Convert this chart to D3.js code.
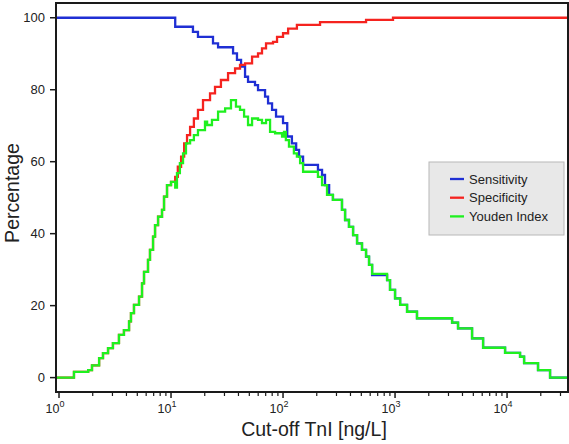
<!DOCTYPE html>
<meta charset="utf-8">
<html>
<head>
  <style>
  body { margin: 0; background: #fff; }
  text { font-family: "Liberation Sans", Arial, sans-serif; fill: #222; }
  .curve { fill: none; stroke-width: 2.3px; stroke-linejoin: miter; }
  </style>
  <script src="https://cdn.jsdelivr.net/npm/d3@7"></script>
</head>
<body>
  <div id="chart"></div>
  <script type="text/javascript">
  var width = 569, height = 444;
  var margin = { top: 3, right: 1, bottom: 52, left: 56 };

  // Cut-off values (ng/L) where each curve steps, and the value after the step
  var sensCutoff = [0.94, 10.9, 15.7, 17.4, 23.7, 26.3, 35.8, 38.8, 42.2, 45.8,
    48.7, 56.2, 59.8, 69.1, 73.5, 79.8, 86.6, 100, 109, 120,
    131, 139, 151, 205, 223, 237, 258, 279, 336, 358,
    388, 422, 458, 507, 551, 586, 624, 849, 902, 1000,
    1110, 1280, 1570, 3230, 3650, 4870, 6110, 9600, 13060, 14190,
    18900, 24200];
  var sensValue = [100, 97.5, 96.1, 94.7, 92.9, 91.8, 90.1, 88.3, 86.4, 83.6,
    82.2, 81.3, 79.9, 78.1, 76.2, 74.4, 72.5, 70.7, 67.0, 65.1,
    63.3, 61.4, 59.1, 57.7, 56.3, 53.5, 50.8, 49.4, 46.6, 43.8,
    41.9, 39.6, 37.3, 35.5, 33.6, 31.3, 28.5, 27.1, 24.4, 22.0,
    20.2, 18.3, 16.5, 15.3, 13.7, 10.9, 8.3, 6.9, 5.8, 4.0,
    2.1, 0];

  var specCutoff = [0.94, 1.36, 1.82, 1.97, 2.28, 2.47, 2.74, 3.03, 3.43, 3.80,
    4.22, 4.39, 4.67, 5.18, 5.51, 5.74, 6.23, 6.49, 6.91, 7.20,
    7.66, 8.31, 8.66, 9.21, 10.0, 10.9, 11.5, 12.3, 13.1, 13.9,
    14.8, 16.0, 17.4, 19.3, 22.3, 24.7, 27.9, 32.3, 37.3, 41.3,
    45.8, 52.9, 59.8, 64.9, 70.5, 81.4, 88.4, 100, 111, 133,
    214, 551, 959];
  var specValue = [0, 1.6, 2.1, 3.4, 5.4, 6.8, 8.2, 9.6, 11.9, 13.2,
    15.6, 17.9, 20.2, 22.5, 26.2, 29.4, 32.7, 35.5, 39.2, 42.4,
    44.7, 46.6, 50.3, 53.5, 54.4, 55.8, 58.6, 61.4, 65.1, 67.4,
    69.7, 72.0, 74.4, 77.1, 79.0, 80.8, 82.7, 84.6, 85.9, 86.9,
    87.3, 89.2, 90.1, 91.5, 92.9, 93.3, 94.7, 95.7, 97.0, 98.0,
    98.8, 99.4, 100];

  var youdenCutoff = [0.94, 1.36, 1.82, 1.97, 2.28, 2.47, 2.74, 3.03, 3.43, 3.80,
    4.22, 4.39, 4.67, 5.18, 5.51, 5.74, 6.23, 6.49, 6.91, 7.20,
    7.66, 8.31, 8.66, 9.21, 10.0, 10.9, 11.3, 12.0, 12.8, 13.6,
    14.8, 16.0, 17.4, 20.1, 21.0, 23.2, 26.3, 30.4, 34.3, 38.0,
    41.3, 44.9, 48.7, 52.9, 59.8, 64.9, 70.5, 76.6, 84.9, 98,
    102, 106, 113, 125, 133, 142, 151, 205, 223, 247,
    279, 336, 358, 388, 422, 458, 507, 551, 586, 624,
    849, 902, 1000, 1110, 1280, 1570, 3230, 3650, 4870, 6110,
    9600, 13060, 14190, 18900, 24200];
  var youdenValue = [0, 1.6, 2.1, 3.4, 5.4, 6.8, 8.2, 9.6, 11.9, 13.2,
    15.6, 17.9, 20.2, 22.5, 26.2, 29.4, 32.7, 35.5, 39.2, 42.4,
    44.7, 46.6, 50.3, 53.5, 54.4, 52.8, 56.8, 59.6, 62.3, 65.1,
    66.0, 67.4, 68.8, 71.1, 70.2, 71.6, 73.9, 74.8, 77.1, 75.3,
    74.4, 72.5, 70.2, 72.0, 71.6, 70.7, 71.6, 68.3, 67.9, 67.0,
    68.3, 66.0, 64.2, 62.3, 61.4, 59.6, 57.2, 55.8, 53.5, 50.8,
    49.4, 46.6, 43.8, 41.9, 39.6, 37.3, 35.5, 33.6, 31.3, 28.8,
    27.1, 24.4, 22.0, 20.2, 18.3, 16.5, 15.3, 13.7, 10.9, 8.3,
    6.9, 5.8, 4.0, 2.1, 0];

  var seriesNames = ["Sensitivity", "Specificity", "Youden Index"];
  var seriesColors = ["#1f2fd4", "#f5231f", "#1ff01f"];
  var yTicks = [0, 20, 40, 60, 80, 100];
  var xDecades = [0, 1, 2, 3, 4];

  var xDomain = [0.94, 35000];
  var yDomain = [-4, 104.1];

  var svg = d3.select("#chart").append("svg")
    .attr("width", width)
    .attr("height", height);

  var x = d3.scaleLog().domain(xDomain).range([margin.left, width - margin.right]);
  var y = d3.scaleLinear().domain(yDomain).range([height - margin.bottom, margin.top]);

  svg.append("clipPath").attr("id", "plotclip")
    .append("rect")
    .attr("x", margin.left).attr("y", margin.top)
    .attr("width", width - margin.right - margin.left)
    .attr("height", height - margin.bottom - margin.top);

  // Curves (green last so it sits on top)
  var series = [
    { cut: sensCutoff, val: sensValue },
    { cut: specCutoff, val: specValue },
    { cut: youdenCutoff, val: youdenValue }
  ];

  var line = d3.line()
    .x(function(d) { return x(d[0]); })
    .y(function(d) { return y(d[1]); })
    .curve(d3.curveStepAfter);

  series.forEach(function(s, k) {
    var pts = s.cut.map(function(c, i) { return [c, s.val[i]]; });
    pts.push([xDomain[1], s.val[s.val.length - 1]]);
    svg.append("path")
      .attr("class", "curve")
      .attr("clip-path", "url(#plotclip)")
      .attr("d", line(pts))
      .style("stroke", seriesColors[k]);
  });

  // Frame
  svg.append("rect")
    .attr("x", margin.left).attr("y", margin.top)
    .attr("width", width - margin.right - margin.left)
    .attr("height", height - margin.bottom - margin.top)
    .style("fill", "none")
    .style("stroke", "#1a1a1a")
    .style("stroke-width", 2);

  // Y axis ticks + labels
  var yAxis = svg.append("g");
  yAxis.selectAll("line").data(yTicks).enter().append("line")
    .attr("x1", margin.left - 6).attr("x2", margin.left)
    .attr("y1", function(d) { return y(d); })
    .attr("y2", function(d) { return y(d); })
    .style("stroke", "#1a1a1a").style("stroke-width", 1.5);
  yAxis.selectAll("text").data(yTicks).enter().append("text")
    .attr("x", margin.left - 11)
    .attr("y", function(d) { return y(d) + 4.5; })
    .style("text-anchor", "end")
    .style("font-size", "13px")
    .text(function(d) { return d; });

  // X axis ticks (log, major + minor)
  var xAxisY = height - margin.bottom;
  var minor = [];
  xDecades.forEach(function(e) {
    for (var m = 2; m <= 9; ++m) minor.push(m * Math.pow(10, e));
  });
  minor = minor.filter(function(v) { return v < xDomain[1]; });
  svg.selectAll(".minor").data(minor).enter().append("line")
    .attr("x1", function(d) { return x(d); }).attr("x2", function(d) { return x(d); })
    .attr("y1", xAxisY).attr("y2", xAxisY + 4)
    .style("stroke", "#1a1a1a").style("stroke-width", 1.2);
  svg.selectAll(".major").data(xDecades).enter().append("line")
    .attr("x1", function(d) { return x(Math.pow(10, d)); })
    .attr("x2", function(d) { return x(Math.pow(10, d)); })
    .attr("y1", xAxisY).attr("y2", xAxisY + 6)
    .style("stroke", "#1a1a1a").style("stroke-width", 1.5);

  var xl = svg.selectAll(".xlab").data(xDecades).enter().append("text")
    .attr("x", function(d) { return x(Math.pow(10, d)) - 4; })
    .attr("y", xAxisY + 21)
    .style("text-anchor", "middle")
    .style("font-size", "12.5px");
  xl.append("tspan").text("10");
  xl.append("tspan").attr("dy", -6).style("font-size", "9px").text(function(d) { return d; });

  // Axis titles
  svg.append("text")
    .attr("x", 314).attr("y", 436)
    .style("text-anchor", "middle")
    .style("font-size", "19.5px")
    .text("Cut-off TnI [ng/L]");
  svg.append("text")
    .attr("transform", "translate(19,193) rotate(-90)")
    .style("text-anchor", "middle")
    .style("font-size", "19.5px")
    .text("Percentage");

  // Legend
  var lg = svg.append("g");
  lg.append("rect")
    .attr("x", 429).attr("y", 162).attr("width", 135).attr("height", 73)
    .style("fill", "#e8e8e8").style("stroke", "#b8b8b8").style("stroke-width", 1);
  seriesNames.forEach(function(n, i) {
    var ly = 179 + i * 18.7;
    lg.append("line")
      .attr("x1", 450).attr("x2", 464).attr("y1", ly).attr("y2", ly)
      .style("stroke", seriesColors[i]).style("stroke-width", 2.3);
    lg.append("text")
      .attr("x", 469).attr("y", ly + 4.5)
      .style("font-size", "13px")
      .text(n);
  });
  </script>
</body>
</html>
